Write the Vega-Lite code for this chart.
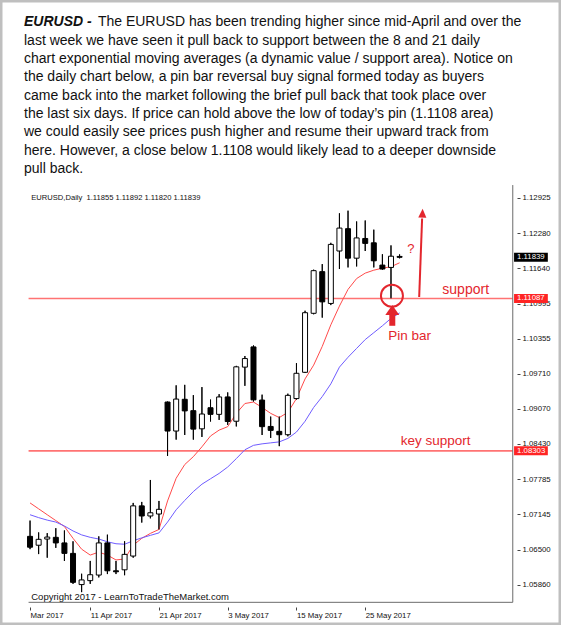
{
  "$schema": "https://vega.github.io/schema/vega-lite/v6.json",
  "width": 561,
  "height": 625,
  "autosize": {"type": "none"},
  "padding": 0,
  "background": "white",
  "config": {"view": {"stroke": "#bfbfbf", "strokeWidth": 5}},
  "resolve": {"axis": {"x": "independent", "y": "independent"}},
  "title": {
    "text": "EURUSD -",
    "subtitle": [
      "\u200b\u00a0\u00a0\u00a0\u00a0\u00a0\u00a0\u00a0\u00a0\u00a0\u00a0\u00a0\u00a0\u00a0\u00a0\u00a0\u00a0\u00a0\u00a0\u00a0The EURUSD has been trending higher since mid-April and over the",
      "last week we have seen it pull back to support between the 8 and 21 daily",
      "chart exponential moving averages (a dynamic value / support area). Notice on",
      "the daily chart below, a pin bar reversal buy signal formed today as buyers",
      "came back into the market following the brief pull back that took place over",
      "the last six days. If price can hold above the low of today\u2019s pin (1.1108 area)",
      "we could easily see prices push higher and resume their upward track from",
      "here. However, a close below 1.1108 would likely lead to a deeper downside",
      "pull back."
    ],
    "anchor": "start",
    "frame": "group",
    "orient": "top",
    "dx": 24,
    "offset": -176,
    "font": "Liberation Sans",
    "fontSize": 14,
    "fontWeight": "bold",
    "fontStyle": "italic",
    "color": "#111111",
    "subtitleFont": "Liberation Sans",
    "subtitleFontSize": 14,
    "subtitleColor": "#111111",
    "subtitleLineHeight": 18.33,
    "subtitlePadding": -14
  },
  "datasets": {
    "candles": [
      {"i":0,"o":1.06741,"h":1.07029,"l":1.06507,"c":1.06543},
      {"i":1,"o":1.06579,"h":1.06813,"l":1.06417,"c":1.06687},
      {"i":2,"o":1.06692,"h":1.06800,"l":1.06351,"c":1.06728},
      {"i":3,"o":1.06723,"h":1.06890,"l":1.06531,"c":1.06621},
      {"i":4,"o":1.06621,"h":1.06849,"l":1.06292,"c":1.06430},
      {"i":5,"o":1.06430,"h":1.06651,"l":1.05873,"c":1.05901},
      {"i":6,"o":1.05860,"h":1.06058,"l":1.05722,"c":1.05945},
      {"i":7,"o":1.05932,"h":1.06292,"l":1.05873,"c":1.06040},
      {"i":8,"o":1.06034,"h":1.06741,"l":1.05991,"c":1.06621},
      {"i":9,"o":1.06621,"h":1.06772,"l":1.06052,"c":1.06112},
      {"i":10,"o":1.06112,"h":1.06292,"l":1.06052,"c":1.06094},
      {"i":11,"o":1.06130,"h":1.06651,"l":1.06031,"c":1.06412},
      {"i":12,"o":1.06381,"h":1.07352,"l":1.06351,"c":1.07298},
      {"i":13,"o":1.07298,"h":1.07370,"l":1.06993,"c":1.07113},
      {"i":14,"o":1.07113,"h":1.07771,"l":1.07070,"c":1.07172},
      {"i":15,"o":1.07149,"h":1.07388,"l":1.06867,"c":1.07235},
      {"i":16,"o":1.09195,"h":1.09204,"l":1.08210,"c":1.08665},
      {"i":17,"o":1.08665,"h":1.09500,"l":1.08508,"c":1.09249},
      {"i":18,"o":1.09245,"h":1.09509,"l":1.08593,"c":1.09033},
      {"i":19,"o":1.09037,"h":1.09321,"l":1.08508,"c":1.08700},
      {"i":20,"o":1.08706,"h":1.09468,"l":1.08557,"c":1.08976},
      {"i":21,"o":1.09091,"h":1.09240,"l":1.08839,"c":1.08970},
      {"i":22,"o":1.08970,"h":1.09339,"l":1.08868,"c":1.09288},
      {"i":23,"o":1.09288,"h":1.09371,"l":1.08778,"c":1.08839},
      {"i":24,"o":1.08844,"h":1.09856,"l":1.08749,"c":1.09838},
      {"i":25,"o":1.09833,"h":1.10036,"l":1.09491,"c":1.09989},
      {"i":26,"o":1.10202,"h":1.10229,"l":1.09204,"c":1.09234},
      {"i":27,"o":1.09231,"h":1.09330,"l":1.08593,"c":1.08745},
      {"i":28,"o":1.08749,"h":1.08929,"l":1.08539,"c":1.08677},
      {"i":29,"o":1.08659,"h":1.08929,"l":1.08389,"c":1.08598},
      {"i":30,"o":1.08598,"h":1.09348,"l":1.08569,"c":1.09317},
      {"i":31,"o":1.09258,"h":1.09905,"l":1.09240,"c":1.09720},
      {"i":32,"o":1.09738,"h":1.10863,"l":1.09725,"c":1.10827},
      {"i":33,"o":1.10816,"h":1.11613,"l":1.10798,"c":1.11595},
      {"i":34,"o":1.11577,"h":1.11715,"l":1.10737,"c":1.11025},
      {"i":35,"o":1.10996,"h":1.12104,"l":1.10966,"c":1.12075},
      {"i":36,"o":1.11954,"h":1.12643,"l":1.11625,"c":1.12373},
      {"i":37,"o":1.12362,"h":1.12691,"l":1.11654,"c":1.11823},
      {"i":38,"o":1.11823,"h":1.12494,"l":1.11672,"c":1.12193},
      {"i":39,"o":1.12183,"h":1.12512,"l":1.11954,"c":1.12093},
      {"i":40,"o":1.12104,"h":1.12344,"l":1.11654,"c":1.11775},
      {"i":41,"o":1.11697,"h":1.11895,"l":1.11613,"c":1.11625},
      {"i":42,"o":1.11654,"h":1.12057,"l":1.11087,"c":1.11859},
      {"i":43,"o":1.11855,"h":1.11892,"l":1.11820,"c":1.11839}
    ],
    "ema": [
      {"i":0,"r":1.07352,"b":1.07136},
      {"i":1,"r":1.07244,"b":1.07083},
      {"i":2,"r":1.07136,"b":1.07038},
      {"i":3,"r":1.07029,"b":1.07002},
      {"i":4,"r":1.06921,"b":1.06930},
      {"i":5,"r":1.06705,"b":1.06840},
      {"i":6,"r":1.06507,"b":1.06768},
      {"i":7,"r":1.06399,"b":1.06723},
      {"i":8,"r":1.06453,"b":1.06692},
      {"i":9,"r":1.06399,"b":1.06642},
      {"i":10,"r":1.06310,"b":1.06606},
      {"i":11,"r":1.06327,"b":1.06597},
      {"i":12,"r":1.06579,"b":1.06660},
      {"i":13,"r":1.06705,"b":1.06714},
      {"i":14,"r":1.06795,"b":1.06759},
      {"i":15,"r":1.06867,"b":1.06804},
      {"i":16,"r":1.07388,"b":1.07002},
      {"i":17,"r":1.07802,"b":1.07226},
      {"i":18,"r":1.08053,"b":1.07397},
      {"i":19,"r":1.08197,"b":1.07559},
      {"i":20,"r":1.08377,"b":1.07694},
      {"i":21,"r":1.08575,"b":1.07793},
      {"i":22,"r":1.08682,"b":1.07891},
      {"i":23,"r":1.08745,"b":1.08008},
      {"i":24,"r":1.08988,"b":1.08161},
      {"i":25,"r":1.09168,"b":1.08323},
      {"i":26,"r":1.09195,"b":1.08404},
      {"i":27,"r":1.09096,"b":1.08431},
      {"i":28,"r":1.08988,"b":1.08449},
      {"i":29,"r":1.08911,"b":1.08467},
      {"i":30,"r":1.09006,"b":1.08530},
      {"i":31,"r":1.09258,"b":1.08647},
      {"i":32,"r":1.09617,"b":1.08844},
      {"i":33,"r":1.09869,"b":1.09096},
      {"i":34,"r":1.10211,"b":1.09294},
      {"i":35,"r":1.10606,"b":1.09527},
      {"i":36,"r":1.10948,"b":1.09833},
      {"i":37,"r":1.11253,"b":1.10013},
      {"i":38,"r":1.11451,"b":1.10175},
      {"i":39,"r":1.11550,"b":1.10336},
      {"i":40,"r":1.11604,"b":1.10462},
      {"i":41,"r":1.11640,"b":1.10588},
      {"i":42,"r":1.11667,"b":1.10723},
      {"i":43,"r":1.11739,"b":1.10822}
    ]
  },
  "layer": [
    {
      "data": {"name": "candles"},
      "mark": {"type": "rule", "color": "#000000", "strokeWidth": 1},
      "encoding": {
        "x": {
          "field": "i", "type": "quantitative", "title": null,
          "scale": {"domain": [-2.9143, 61.2], "nice": false, "zero": false},
          "axis": {
            "orient": "bottom", "offset": -18, "values": [0, 7, 15, 23, 31, 39],
            "labelExpr": "datum.value == 0 ? 'Mar 2017' : datum.value == 7 ? '11 Apr 2017' : datum.value == 15 ? '21 Apr 2017' : datum.value == 23 ? '3 May 2017' : datum.value == 31 ? '15 May 2017' : '25 May 2017'",
            "grid": false, "domain": false, "ticks": true, "tickSize": 3, "tickColor": "#444444",
            "labelAlign": "left", "labelBaseline": "top", "labelPadding": 1,
            "labelFont": "Liberation Sans", "labelFontSize": 7.8, "labelColor": "#111111",
            "labelFlush": false, "labelOverlap": false
          }
        },
        "y": {
          "field": "l", "type": "quantitative", "title": null,
          "scale": {"domain": [1.052129, 1.164485], "nice": false, "zero": false},
          "axis": {
            "orient": "right", "offset": -44,
            "values": [1.0586, 1.065, 1.07145, 1.07785, 1.0843, 1.0907, 1.0971, 1.10355, 1.10995, 1.1164, 1.1228, 1.12925],
            "format": ".5f", "grid": false, "domain": false, "ticks": true, "tickSize": 3, "tickColor": "#444444",
            "labelAlign": "left", "labelBaseline": "middle", "labelPadding": 2,
            "labelFont": "Liberation Sans", "labelFontSize": 7.8, "labelColor": "#111111",
            "labelFlush": false, "labelOverlap": false
          }
        },
        "y2": {"field": "h"}
      }
    },
    {
      "data": {"values": [{"p": 1.11087}, {"p": 1.08303}]},
      "mark": {"type": "rule", "color": "#ff7373", "strokeWidth": 1.6},
      "encoding": {
        "x": {"datum": -0.1714, "type": "quantitative", "axis": null},
        "x2": {"datum": 56.17},
        "y": {"field": "p", "type": "quantitative", "axis": null}
      }
    },
    {
      "data": {"name": "ema"},
      "mark": {"type": "line", "color": "#ff4a4a", "strokeWidth": 1},
      "encoding": {
        "x": {"field": "i", "type": "quantitative", "axis": null},
        "y": {"field": "r", "type": "quantitative", "axis": null}
      }
    },
    {
      "data": {"name": "ema"},
      "mark": {"type": "line", "color": "#6f5cff", "strokeWidth": 1},
      "encoding": {
        "x": {"field": "i", "type": "quantitative", "axis": null},
        "y": {"field": "b", "type": "quantitative", "axis": null}
      }
    },
    {
      "data": {"name": "candles"},
      "mark": {"type": "rule", "color": "#000000", "strokeWidth": 1},
      "encoding": {
        "x": {"field": "i", "type": "quantitative", "axis": null},
        "y": {"field": "l", "type": "quantitative", "axis": null},
        "y2": {"field": "h"}
      }
    },
    {
      "data": {"name": "candles"},
      "mark": {"type": "bar", "orient": "vertical", "size": 5, "stroke": "#000000", "strokeWidth": 1},
      "encoding": {
        "x": {"field": "i", "type": "quantitative", "axis": null},
        "y": {"field": "o", "type": "quantitative", "axis": null},
        "y2": {"field": "c"},
        "fill": {"condition": {"test": "datum.c < datum.o", "value": "#000000"}, "value": "#ffffff"}
      }
    },
    {
      "data": {"values": [{}]},
      "mark": {"type": "rule", "color": "#6b6b6b", "strokeWidth": 1},
      "encoding": {
        "x": {"datum": 56.17, "type": "quantitative", "axis": null},
        "y": {"datum": 1.05536, "type": "quantitative", "axis": null},
        "y2": {"datum": 1.13159}
      }
    },
    {
      "data": {"values": [{}]},
      "mark": {"type": "rule", "color": "#6b6b6b", "strokeWidth": 1},
      "encoding": {
        "x": {"datum": -0.1714, "type": "quantitative", "axis": null},
        "x2": {"datum": 56.17},
        "y": {"datum": 1.05536, "type": "quantitative", "axis": null}
      }
    },
    {
      "data": {"values": [{"p": 1.11839, "kind": "price"}, {"p": 1.11087, "kind": "level"}, {"p": 1.08303, "kind": "level"}]},
      "layer": [
        {
          "mark": {"type": "bar", "orient": "horizontal", "size": 9},
          "encoding": {
            "x": {"datum": 56.32, "type": "quantitative", "axis": null},
            "x2": {"datum": 60.25},
            "y": {"field": "p", "type": "quantitative", "axis": null},
            "color": {"field": "kind", "type": "nominal", "legend": null, "scale": {"domain": ["price", "level"], "range": ["#000000", "#ff2424"]}}
          }
        },
        {
          "mark": {"type": "text", "align": "left", "baseline": "middle", "color": "#ffffff", "font": "Liberation Sans", "fontSize": 7.8, "dx": 3},
          "encoding": {
            "x": {"datum": 56.32, "type": "quantitative", "axis": null},
            "y": {"field": "p", "type": "quantitative", "axis": null},
            "text": {"field": "p", "format": ".5f"}
          }
        }
      ]
    },
    {
      "data": {"values": [{"t": "EURUSD,Daily\u00a0 1.11855 1.11892 1.11820 1.11839"}]},
      "mark": {"type": "text", "align": "left", "baseline": "middle", "color": "#111111", "font": "Liberation Sans", "fontSize": 7.6},
      "encoding": {
        "x": {"datum": 0.14, "type": "quantitative", "axis": null},
        "y": {"datum": 1.1293, "type": "quantitative", "axis": null},
        "text": {"field": "t"}
      }
    },
    {
      "data": {"values": [{"t": "Copyright 2017 - LearnToTradeTheMarket.com"}]},
      "mark": {"type": "text", "align": "left", "baseline": "middle", "color": "#111111", "font": "Liberation Sans", "fontSize": 9.5},
      "encoding": {
        "x": {"datum": 0.14, "type": "quantitative", "axis": null},
        "y": {"datum": 1.05632, "type": "quantitative", "axis": null},
        "text": {"field": "t"}
      }
    },
    {
      "data": {"values": [{"t": "support"}]},
      "mark": {"type": "text", "align": "center", "baseline": "middle", "color": "#e3262d", "font": "Liberation Sans", "fontSize": 14},
      "encoding": {
        "x": {"datum": 50.69, "type": "quantitative", "axis": null},
        "y": {"datum": 1.11235, "type": "quantitative", "axis": null},
        "text": {"field": "t"}
      }
    },
    {
      "data": {"values": [{"t": "key support"}]},
      "mark": {"type": "text", "align": "center", "baseline": "middle", "color": "#e3262d", "font": "Liberation Sans", "fontSize": 13.5},
      "encoding": {
        "x": {"datum": 47.2, "type": "quantitative", "axis": null},
        "y": {"datum": 1.08485, "type": "quantitative", "axis": null},
        "text": {"field": "t"}
      }
    },
    {
      "data": {"values": [{"t": "Pin bar"}]},
      "mark": {"type": "text", "align": "center", "baseline": "middle", "color": "#e3262d", "font": "Liberation Sans", "fontSize": 13.5},
      "encoding": {
        "x": {"datum": 44.17, "type": "quantitative", "axis": null},
        "y": {"datum": 1.10399, "type": "quantitative", "axis": null},
        "text": {"field": "t"}
      }
    },
    {
      "data": {"values": [{"t": "?"}]},
      "mark": {"type": "text", "align": "center", "baseline": "middle", "color": "#e3262d", "font": "Liberation Sans", "fontSize": 13},
      "encoding": {
        "x": {"datum": 44.3, "type": "quantitative", "axis": null},
        "y": {"datum": 1.11999, "type": "quantitative", "axis": null},
        "text": {"field": "t"}
      }
    },
    {
      "data": {"values": [{}]},
      "mark": {"type": "rule", "color": "#e3262d", "strokeWidth": 2},
      "encoding": {
        "x": {"datum": 45.28, "type": "quantitative", "axis": null},
        "y": {"datum": 1.11115, "type": "quantitative", "axis": null},
        "x2": {"datum": 45.62},
        "y2": {"datum": 1.12548}
      }
    },
    {
      "data": {"values": [{}]},
      "mark": {"type": "point", "shape": "M0,-1.2L-0.9,0.8L0.9,0.8Z", "filled": true, "size": 81, "color": "#e3262d", "opacity": 1, "angle": 2},
      "encoding": {
        "x": {"datum": 45.66, "type": "quantitative", "axis": null},
        "y": {"datum": 1.12628, "type": "quantitative", "axis": null}
      }
    },
    {
      "data": {"values": [{}]},
      "mark": {"type": "rule", "color": "#e3262d", "strokeWidth": 6},
      "encoding": {
        "x": {"datum": 42.15, "type": "quantitative", "axis": null},
        "y": {"datum": 1.10588, "type": "quantitative", "axis": null},
        "y2": {"datum": 1.10822}
      }
    },
    {
      "data": {"values": [{}]},
      "mark": {"type": "point", "shape": "M0,-0.7L-1,0.7L1,0.7Z", "filled": true, "size": 196, "color": "#e3262d", "opacity": 1},
      "encoding": {
        "x": {"datum": 42.15, "type": "quantitative", "axis": null},
        "y": {"datum": 1.10876, "type": "quantitative", "axis": null}
      }
    },
    {
      "data": {"values": [{}]},
      "mark": {"type": "point", "shape": "circle", "filled": false, "size": 484, "color": "#e3262d", "strokeWidth": 2, "opacity": 1},
      "encoding": {
        "x": {"datum": 42.11, "type": "quantitative", "axis": null},
        "y": {"datum": 1.11136, "type": "quantitative", "axis": null}
      }
    }
  ]
}
